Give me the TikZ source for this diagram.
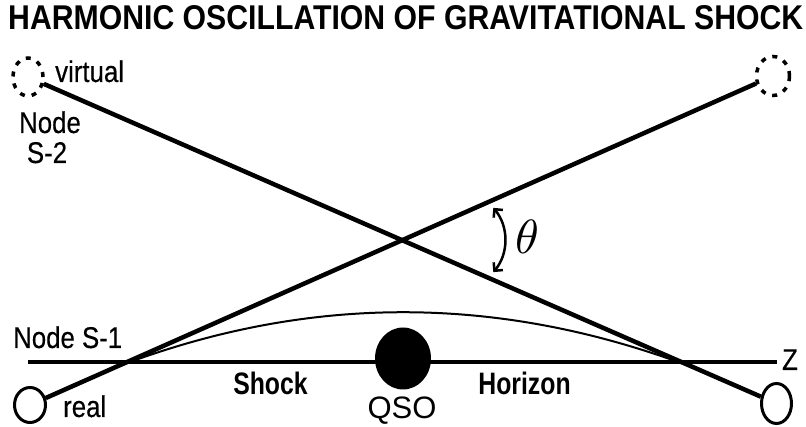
\documentclass[tikz,border=0pt]{standalone}
\usepackage{fontspec}
\setmainfont{Liberation Sans}
\newfontfamily\lab[FakeStretch=0.86,FakeBold=0.4]{Liberation Sans}
\newfontfamily\labb[FakeStretch=0.8]{Liberation Sans Bold}
\usetikzlibrary{shapes.geometric,arrows.meta}
\begin{document}
\begin{tikzpicture}[x=1pt,y=-1pt,
  ring/.style={draw, ellipse, line width=3pt, inner sep=0pt},
  vring/.style={ring, line width=3.5pt, dash pattern=on 5pt off 7pt},
  beam/.style={line width=4.5pt},
  lbl/.style={inner sep=0pt, font=\fontsize{30}{33}\selectfont\lab},
  blbl/.style={inner sep=0pt, font=\fontsize{31}{34}\selectfont\labb},
  swing/.style={line width=2.5pt, {Straight Barb[angle=90:8.5pt]}-{Straight Barb[angle=90:8.5pt]}}
]
\useasboundingbox (0,0) rectangle (806,427);

% title
\node[inner sep=0pt, anchor=south west] (title) at (8,30.5)
  {\resizebox{795pt}{24pt}{\bfseries HARMONIC OSCILLATION OF GRAVITATIONAL SHOCK}};

% circles
\node[vring, minimum width=30pt, minimum height=38pt] (tl) at (28,77) {};
\node[vring, minimum width=33pt, minimum height=39pt] (tr) at (773,76) {};
\node[ring, minimum width=31pt, minimum height=35pt] (bl) at (30,405) {};
\node[ring, minimum width=30pt, minimum height=40pt] (br) at (776.5,403.5) {};

% axis
\coordinate (za) at (28,362);
\coordinate (zb) at (777,362);
\draw[line width=4pt] (za) -- (zb);

% crossing beams
\draw[beam] (tl) -- (br);
\draw[beam] (bl) -- (tr);

% thin arch
\draw[line width=2pt] (bl) .. controls (284,283.7) and (521,284.3) .. (br);

% QSO
\node[fill=black, ellipse, inner sep=0pt, minimum width=56pt, minimum height=62pt] (qso) at (403,358.5) {};

% theta arc
\coordinate (arcc) at (455,240);
\draw[swing] ([shift={(40:50)}]arcc) arc[start angle=40, end angle=-40, radius=50];
\node[inner sep=0pt] (theta) at (527,237) {\scalebox{4.8}{$\theta$}};

% labels
\node[lbl, anchor=base west] (virtual) at (55,82) {virtual};
\node[lbl, anchor=base] (node2) at (50,133) {Node};
\node[lbl, anchor=base] (s2) at (47,163) {S-2};
\node[lbl, anchor=base west] (s1) at (13,348) {Node S-1};
\node[lbl, anchor=base west] (real) at (63,417) {real};
\node[lbl, anchor=base] (z) at (790,370) {Z};
\node[inner sep=0pt, anchor=base, font=\fontsize{31}{34}\selectfont] (qsol) at (402,418) {QSO};
\node[blbl, anchor=base] (shock) at (270.5,395) {Shock};
\node[blbl, anchor=base] (horizon) at (524.5,395) {Horizon};
\end{tikzpicture}
\end{document}
